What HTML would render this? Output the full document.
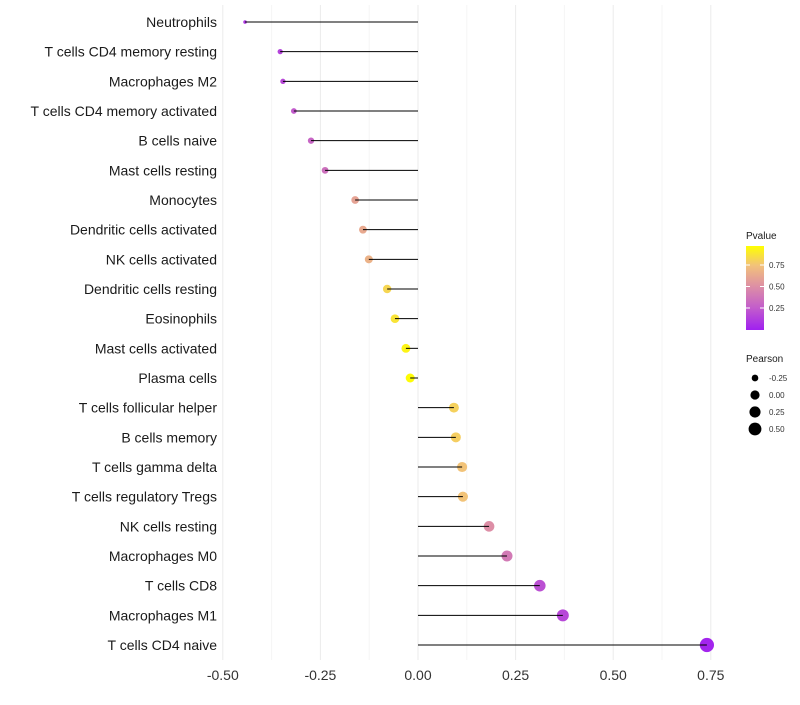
<!DOCTYPE html>
<html><head><meta charset="utf-8"><style>
body{margin:0;background:#fff;font-family:"Liberation Sans",sans-serif}
</style></head><body>
<svg id="chart" width="800" height="700" xmlns="http://www.w3.org/2000/svg">
<defs><linearGradient id="pg" x1="0" y1="1" x2="0" y2="0">
<stop offset="0" stop-color="#a020f0"/><stop offset="0.26" stop-color="#c25ccc"/><stop offset="0.52" stop-color="#dd8fa5"/><stop offset="0.77" stop-color="#f2c27a"/><stop offset="1" stop-color="#ffff00"/>
</linearGradient></defs>
<g id="grid"></g><g id="dots"></g><g id="stems"></g><g id="labels"></g><g id="legend"></g>
</svg>
<script>
const categories=["Neutrophils","T cells CD4 memory resting","Macrophages M2","T cells CD4 memory activated","B cells naive","Mast cells resting","Monocytes","Dendritic cells activated","NK cells activated","Dendritic cells resting","Eosinophils","Mast cells activated","Plasma cells","T cells follicular helper","B cells memory","T cells gamma delta","T cells regulatory  Tregs","NK cells resting","Macrophages M0","T cells CD8","Macrophages M1","T cells CD4 naive"];
const pearson=[-0.443,-0.353,-0.346,-0.318,-0.274,-0.238,-0.161,-0.141,-0.126,-0.079,-0.059,-0.031,-0.020,0.092,0.097,0.113,0.115,0.182,0.228,0.312,0.371,0.740];
const pvalues=[0.10,0.15,0.17,0.25,0.30,0.35,0.60,0.63,0.67,0.82,0.87,0.93,0.96,0.80,0.79,0.75,0.75,0.50,0.40,0.20,0.17,0.02];
const xTicks=[-0.5,-0.25,0,0.25,0.5,0.75];
const xTickLabels=["-0.50","-0.25","0.00","0.25","0.50","0.75"];
const sizeLegend=[-0.25,0,0.25,0.5];
const sizeLegendLabels=["-0.25","0.00","0.25","0.50"];
const pLegend=[0.25,0.5,0.75];
const pLegendLabels=["0.25","0.50","0.75"];

const NS="http://www.w3.org/2000/svg";
const x=v=>418+v*390.4;
const y=i=>22+i*(623/21);
const rad=v=>Math.sqrt(Math.max(2.4,21+40*v));
const stops=[[0,[160,32,240]],[0.26,[194,92,204]],[0.52,[221,143,165]],[0.77,[242,194,122]],[1,[255,255,0]]];
function col(p){p=Math.max(0,Math.min(1,p/0.97));for(let k=1;k<stops.length;k++){if(p<=stops[k][0]){const a=stops[k-1],b=stops[k],t=(p-a[0])/(b[0]-a[0]);return "rgb("+a[1].map((c,j)=>Math.round(c+(b[1][j]-c)*t)).join(",")+")";}}return "rgb(255,255,0)";}
function mk(tag,attrs,parent){const e=document.createElementNS(NS,tag);for(const k in attrs)e.setAttribute(k,attrs[k]);parent.appendChild(e);return e;}
const grid=document.getElementById('grid'),dots=document.getElementById('dots'),stems=document.getElementById('stems'),labels=document.getElementById('labels'),legend=document.getElementById('legend');
for(let v=-0.5;v<=0.751;v+=0.125){const l=mk('line',{x1:x(v),x2:x(v),y1:5,y2:660,stroke:Math.abs((v*4)%1)<0.01?'#ebebeb':'#f5f5f5','stroke-width':1},grid);

}
xTicks.forEach((v,i)=>{const t=mk('text',{x:x(v),y:680,'text-anchor':'middle','font-size':14,fill:'#333'},labels);t.textContent=xTickLabels[i];

});
categories.forEach((c,i)=>{const t=mk('text',{x:217,y:y(i)+5,'text-anchor':'end','font-size':14,fill:'#1a1a1a'},labels);t.textContent=c;


const d=mk('circle',{cx:x(pearson[i]),cy:y(i),r:rad(pearson[i]),fill:col(pvalues[i])},dots);


const s=mk('line',{x1:x(0),x2:x(pearson[i]),y1:y(i),y2:y(i),stroke:'#000','stroke-width':1},stems);

});
let t=mk('text',{x:746,y:239,'font-size':10,fill:'#1a1a1a'},legend);t.textContent='Pvalue';


const cb=mk('rect',{x:746,y:246,width:18,height:84,fill:'url(#pg)'},legend);


const cy=p=>329.5-p*86;
pLegend.forEach((p,i)=>{mk('line',{x1:746,x2:750,y1:cy(p),y2:cy(p),stroke:'#fff'},legend);mk('line',{x1:760,x2:764,y1:cy(p),y2:cy(p),stroke:'#fff'},legend);
const tt=mk('text',{x:769,y:cy(p)+3,'font-size':8,fill:'#333'},legend);tt.textContent=pLegendLabels[i];

});
t=mk('text',{x:746,y:362,'font-size':10,fill:'#1a1a1a'},legend);t.textContent='Pearson';


sizeLegend.forEach((v,i)=>{const yy=378+i*17;const c=mk('circle',{cx:755,cy:yy,r:rad(v),fill:'#000'},legend);


const tt=mk('text',{x:769,y:yy+3,'font-size':8,fill:'#333'},legend);tt.textContent=sizeLegendLabels[i];

});
</script>
</body></html>
